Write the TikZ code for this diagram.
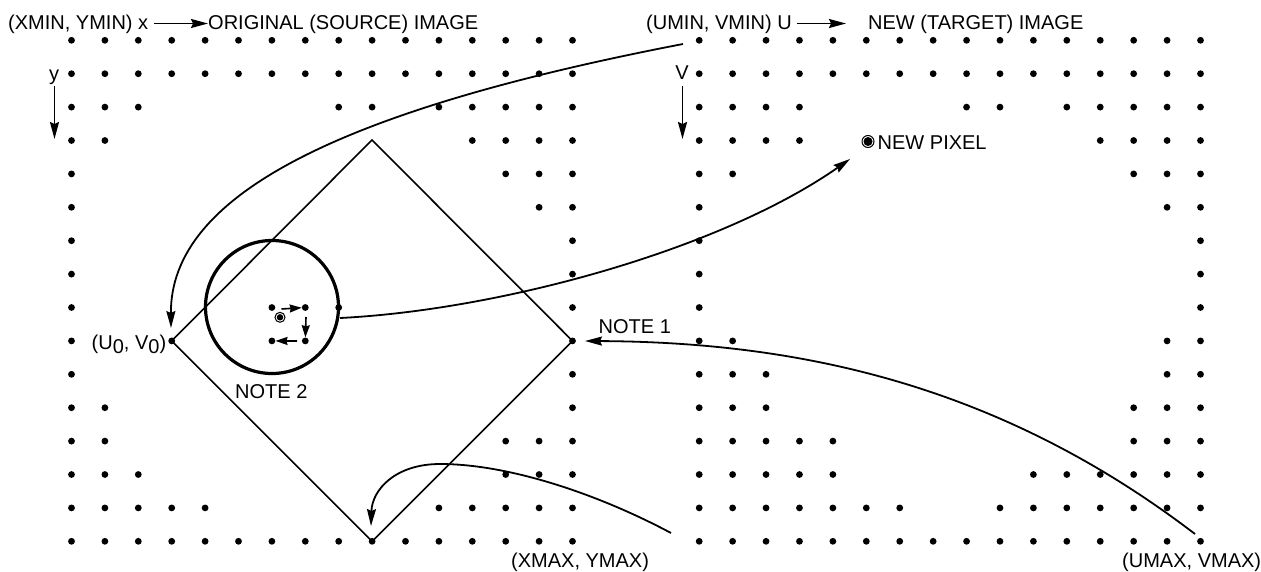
\documentclass[tikz,border=0pt]{standalone}
\usepackage{fontspec}
\setmainfont{Liberation Sans}
\usetikzlibrary{arrows.meta}
\tikzset{
  x=1pt,y=-1pt,
  gridpt/.style={circle,fill=black,inner sep=0pt,minimum size=6.8pt},
  lab/.style={anchor=base west,inner sep=0pt,font=\fontsize{20}{24}\selectfont},
  wire/.style={line width=1.8pt,-{Stealth[length=17pt,width=9pt,inset=2pt]}},
  tiny arrow/.style={line width=1.6pt,-{Stealth[length=12pt,width=8pt,inset=1pt]}},
  thin wire/.style={line width=1.8pt}
}
\newcommand{\leftdots}[2]{\foreach \c in {#2}{\node[gridpt] (L-\c-#1) at ({71.5+33.4*\c},{40.3+33.4*#1}) {};}}
\newcommand{\rightdots}[2]{\foreach \c in {#2}{\node[gridpt] (R-\c-#1) at ({699.2+33.42*\c},{40.3+33.4*#1}) {};}}
\begin{document}
\begin{tikzpicture}
\useasboundingbox (0,0) rectangle (1261,571);
% left grid
\leftdots{0}{0,...,15}
\leftdots{1}{0,...,15}
\leftdots{2}{0,1,2,8,9,11,12,13,14,15}
\leftdots{3}{0,1,12,13,14,15}
\leftdots{4}{0,13,14,15}
\leftdots{5}{0,14,15}
\leftdots{6}{0,15}
\leftdots{7}{0,15}
\leftdots{8}{0,6,7,8,15}
\leftdots{9}{0,3,6,7,15}
\leftdots{10}{0,15}
\leftdots{11}{0,1,15}
\leftdots{12}{0,1,13,14,15}
\leftdots{13}{0,1,2,13,14,15}
\leftdots{14}{0,1,2,3,4,11,12,13,14,15}
\leftdots{15}{0,...,15}
% right grid
\rightdots{0}{0,...,15}
\rightdots{1}{0,...,15}
\rightdots{2}{0,1,2,3,8,9,11,12,13,14,15}
\rightdots{3}{0,1,2,3,12,13,14,15}
\rightdots{4}{0,1,13,14,15}
\rightdots{5}{0,14,15}
\rightdots{6}{0,15}
\rightdots{7}{0,15}
\rightdots{8}{0,15}
\rightdots{9}{0,1,14,15}
\rightdots{10}{0,1,2,14,15}
\rightdots{11}{0,1,2,13,14,15}
\rightdots{12}{0,1,2,3,4,13,14,15}
\rightdots{13}{0,1,2,3,4,10,11,12,13,14,15}
\rightdots{14}{0,1,2,3,4,5,6,9,10,11,12,13,14,15}
\rightdots{15}{0,...,15}
% diamond
\coordinate (apex) at (372,140);
\coordinate (east) at (L-15-9.center);
\coordinate (south) at (L-9-15.center);
\coordinate (west) at (L-3-9.center);
\draw[line width=1.6pt,line join=miter] (apex) -- (east) -- (south) -- (west) -- cycle;
% circle of neighbourhood
\node[circle,draw,line width=3.2pt,minimum size=133pt,inner sep=0pt] (ring) at (272,307) {};
% pixels
\node[circle,fill=black,inner sep=0pt,minimum size=6.5pt] (srcc) at (280,317.3) {};
\node[circle,draw,line width=1pt,inner sep=0pt,minimum size=10pt] (src) at (280,317.3) {};
\node[circle,fill=black,inner sep=0pt,minimum size=9pt] (newc) at (868,141.5) {};
\node[circle,draw,line width=1pt,inner sep=0pt,minimum size=12pt] (newp) at (868,141.5) {};
% free ends
\coordinate (a1s) at (683,44);
\coordinate (a1e) at (171,328);
\coordinate (a2s) at (340,318);
\coordinate (a2e) at (850,159);
\coordinate (a3s) at (1195,534);
\coordinate (a3e) at (585,341);
\coordinate (a4s) at (671,533);
\coordinate (a4m) at (440,464);
\coordinate (a4e) at (371,526);
\draw[wire] (a1s) .. controls (340,110) and (170,195) .. (a1e);
\draw[wire] (a2s) .. controls (500,310) and (720,250) .. (a2e);
\draw[wire] (a3s) .. controls (1000,385) and (800,342) .. (a3e);
\draw[thin wire] (a4s) .. controls (600,495) and (510,464) .. (a4m);
\draw[wire] (a4m) .. controls (395,464) and (372,490) .. (a4e);
% small arrows
\draw[tiny arrow] (281.5,309) -- (L-7-8);
\draw[tiny arrow] (306,317) -- (L-7-9);
\draw[tiny arrow] (297,341) -- (L-6-9);
% axes arrows
\coordinate (ax1s) at (154,23.5); \coordinate (ax1e) at (208,23.5);
\coordinate (ay1s) at (54.5,86);  \coordinate (ay1e) at (54.5,139);
\coordinate (ax2s) at (797,23.5); \coordinate (ax2e) at (846,23.5);
\coordinate (ay2s) at (682.5,86); \coordinate (ay2e) at (682.5,139);
\draw[wire] (ax1s) -- (ax1e);
\draw[wire] (ay1s) -- (ay1e);
\draw[wire] (ax2s) -- (ax2e);
\draw[wire] (ay2s) -- (ay2e);
% labels
\node[lab] (t1) at (8,29) {(XMIN, YMIN) x};
\node[lab] (t2) at (208,29) {ORIGINAL (SOURCE) IMAGE};
\node[lab] (t3) at (646,29) {(UMIN, VMIN) U};
\node[lab] (t4) at (868,29) {NEW (TARGET) IMAGE};
\node[lab,anchor=base] (t5) at (54,80) {y};
\node[lab,anchor=base] (t6) at (682,79) {V};
\node[lab] (t7) at (877.5,149) {NEW PIXEL};
\node[lab] (t8) at (598.5,333) {NOTE 1};
\node[lab] (t9) at (235,398) {NOTE 2};
\node[lab] (t10) at (91.5,349) {(U\raisebox{-4pt}{0}, V\raisebox{-4pt}{0})};
\node[lab] (t11) at (511,567) {(XMAX, YMAX)};
\node[lab] (t12) at (1122,567) {(UMAX, VMAX)};
\end{tikzpicture}
\end{document}
